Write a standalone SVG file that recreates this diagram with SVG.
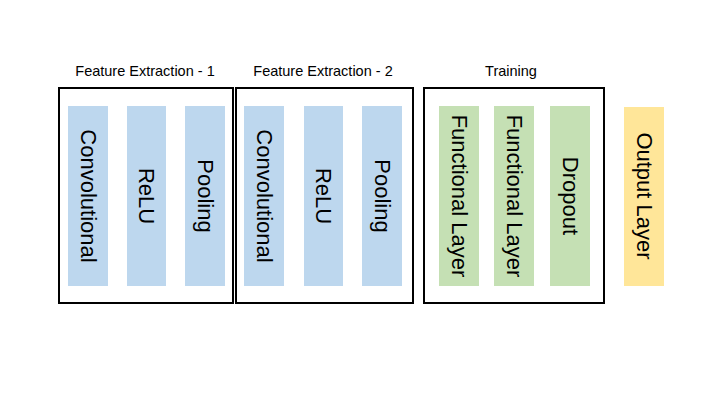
<svg xmlns="http://www.w3.org/2000/svg" width="720" height="405" viewBox="0 0 720 405">
<style>
.frame{fill:none;stroke:#000;stroke-width:2}
.blue{fill:#bdd7ee}
.green{fill:#c5e0b4}
.yellow{fill:#ffe699}
.t{font-family:"Liberation Sans",Arial,sans-serif;font-size:22px;fill:#000;text-anchor:middle;dominant-baseline:central}
.h{font-family:"Liberation Sans",Arial,sans-serif;font-size:14.5px;fill:#000;text-anchor:middle}
</style>
<rect width="720" height="405" fill="#fff"/>
<g id="group-fe1">
<rect class="frame" x="59" y="88" width="174" height="215"/>
<text class="h" x="145" y="76">Feature Extraction - 1</text>
</g>
<g id="group-fe2">
<rect class="frame" x="236" y="88" width="177" height="215"/>
<text class="h" x="323" y="76">Feature Extraction - 2</text>
</g>
<g id="group-training">
<rect class="frame" x="424" y="88" width="180" height="215"/>
<text class="h" x="511" y="76">Training</text>
</g>
<g id="conv1"><rect class="blue" x="68" y="106" width="40" height="180"/><text class="t" transform="translate(88,196) rotate(90)">Convolutional</text></g>
<g id="relu1"><rect class="blue" x="127" y="106" width="39" height="180"/><text class="t" transform="translate(146.5,196) rotate(90)">ReLU</text></g>
<g id="pool1"><rect class="blue" x="185" y="106" width="40" height="180"/><text class="t" transform="translate(205,196) rotate(90)">Pooling</text></g>
<g id="conv2"><rect class="blue" x="244" y="106" width="40" height="180"/><text class="t" transform="translate(264,196) rotate(90)">Convolutional</text></g>
<g id="relu2"><rect class="blue" x="304" y="106" width="39" height="180"/><text class="t" transform="translate(323.5,196) rotate(90)">ReLU</text></g>
<g id="pool2"><rect class="blue" x="362" y="106" width="40" height="180"/><text class="t" transform="translate(382,196) rotate(90)">Pooling</text></g>
<g id="fc1"><rect class="green" x="439" y="106" width="40" height="180"/><text class="t" transform="translate(459,196) rotate(90)">Functional Layer</text></g>
<g id="fc2"><rect class="green" x="494" y="106" width="40" height="180"/><text class="t" transform="translate(514,196) rotate(90)">Functional Layer</text></g>
<g id="dropout"><rect class="green" x="550" y="106" width="40" height="180"/><text class="t" transform="translate(570,196) rotate(90)">Dropout</text></g>
<g id="output"><rect class="yellow" x="624" y="107" width="40" height="179"/><text class="t" transform="translate(644,196) rotate(90)">Output Layer</text></g>
<g id="connectors"></g>
</svg>
